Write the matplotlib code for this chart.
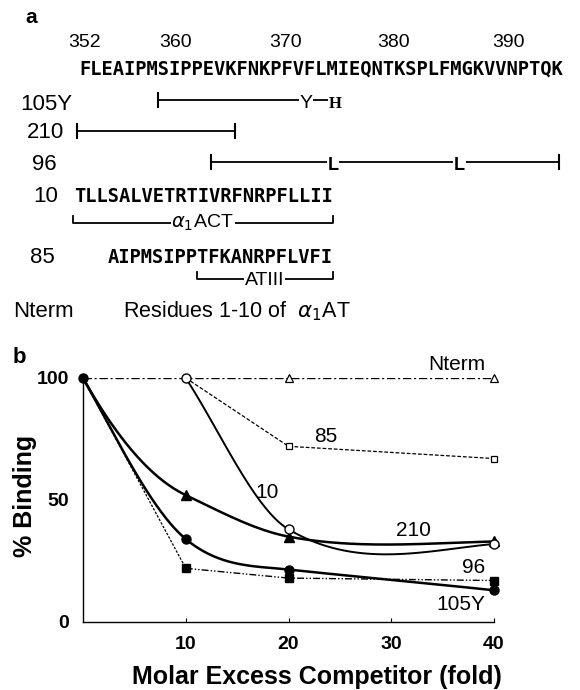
import numpy as np
import matplotlib
matplotlib.use("Agg")
import matplotlib.pyplot as plt

# ---- panel a: peptide map ----
seq_start = 352
sequence = "FLEAIPMSIPPEVKFNKPFVFLMIEQNTKSPLFMGKVVNPTQK"
number_labels = ["352", "360", "370", "380", "390"]
number_pos = [352, 360, 369.8, 379.4, 389.6]

pep105Y_span = (358.5, 374.2)
pep105Y_mut = ("Y", 371.6)
pep210_span = (351.3, 365.3)
pep96_span = (363.2, 394.1)
pep96_mut = [374, 385.2]
pep10_seq = "TLLSALVETRTIVRFNRPFLLII"
pep10_first = 351.5
act_bracket = (350.9, 374.0)
pep85_seq = "AIPMSIPPTFKANRPFLVFI"
pep85_first = 354.5
atiii_bracket = (361.9, 374.0)

# ---- panel b: competition curves ----
excess = [0, 10, 20, 40]
nterm = [100, 100, 100, 100]
p85 = [100, 100, 72, 67]
p10 = [100, 100, 38, 32]
p210 = [100, 52, 35, 33]
p96 = [100, 22, 18, 17]
p105Y = [100, 34, 21.5, 13]
# tangents of the hand drawn curves at each point
p10_tan = [-6.5, -2.5, 0.4]
p210_tan = [-7.5, -2.0, -0.8, 0.1]
p105Y_tan = [-7.5, -3.5, -0.45, -0.45]

sans = "Liberation Sans"
mono = "DejaVu Sans Mono"

W, H = 580, 690
PITCH = 11.27  # px per residue
fig = plt.figure(figsize=(5.8, 6.9), dpi=100)

axa = fig.add_axes([0, 0, 1, 1])
axa.set_xlim(0, W)
axa.set_ylim(H, 0)
axa.axis("off")

def rx(r):
    return 85 + (r - seq_start) * PITCH

def bar(x0, x1, y, ticks=(True, True)):
    axa.plot([x0, x1], [y, y], color="black", lw=1.3)
    for x, t in zip((x0, x1), ticks):
        if t:
            axa.plot([x, x], [y - 7, y + 7], color="black", lw=1.5)

def bracket(x0, x1, y):
    axa.plot([x0, x0, x1, x1], [y - 7, y, y, y - 7], color="black", lw=1.3)

# mono advance is 0.602 em, so this size puts one letter per residue
seq_size = PITCH / 0.602 * 72 / 100

def letters(s, first, y):
    axa.text(rx(first) - PITCH / 2, y, s, family=mono, weight="bold",
             fontsize=seq_size, ha="left", va="baseline")

wh = dict(fc="white", ec="none", pad=0.6)

axa.text(25, 23, "a", family=sans, weight="bold", fontsize=15, va="baseline")
for lab, p in zip(number_labels, number_pos):
    axa.text(rx(p), 47, lab, family=sans, fontsize=14, ha="center", va="baseline")
letters(sequence, seq_start, 75)

# 105Y
axa.text(20, 110, "105Y", family=sans, fontsize=16, va="baseline")
bar(rx(pep105Y_span[0]), rx(pep105Y_span[1]), 100, (True, False))
axa.text(rx(pep105Y_mut[1]), 108, pep105Y_mut[0], family=sans, fontsize=14,
         ha="center", va="baseline", bbox=wh)
axa.text(rx(pep105Y_span[1]), 108, "H", family="Liberation Serif", weight="bold",
         fontsize=12, ha="center", va="baseline", bbox=wh)
# 210
axa.text(27, 138, "210", family=sans, fontsize=16, va="baseline")
bar(rx(pep210_span[0]), rx(pep210_span[1]), 131)
# 96
axa.text(32, 170, "96", family=sans, fontsize=16, va="baseline")
bar(rx(pep96_span[0]), rx(pep96_span[1]), 162)
for m in pep96_mut:
    axa.text(rx(m), 170, "L", family=sans, weight="bold", fontsize=13,
             ha="center", va="baseline", bbox=wh)
# 10
axa.text(33, 202, "10", family=sans, fontsize=16, va="baseline")
letters(pep10_seq, pep10_first, 202)
bracket(rx(act_bracket[0]), rx(act_bracket[1]), 223)
axa.text(rx((act_bracket[0] + act_bracket[1]) / 2), 228, r"$\alpha_1$ACT",
         family=sans, fontsize=14, ha="center", va="baseline", bbox=wh)
# 85
axa.text(30, 263, "85", family=sans, fontsize=16, va="baseline")
letters(pep85_seq, pep85_first, 263)
bracket(rx(atiii_bracket[0]), rx(atiii_bracket[1]), 279)
axa.text(rx((atiii_bracket[0] + atiii_bracket[1]) / 2), 285, "ATIII",
         family=sans, fontsize=14, ha="center", va="baseline", bbox=wh)
# Nterm
axa.text(13, 317, "Nterm", family=sans, fontsize=16, va="baseline")
axa.text(123, 317, r"Residues 1-10 of  $\alpha_1$AT", family=sans, fontsize=15.5,
         va="baseline")
axa.text(13, 363, "b", family=sans, weight="bold", fontsize=16, va="baseline")

# ---- panel b ----
def hermite(xs, ys, ms, n=60):
    px, py = [], []
    t = np.linspace(0, 1, n)
    for i in range(len(xs) - 1):
        h = xs[i + 1] - xs[i]
        h00 = 2 * t**3 - 3 * t**2 + 1
        h10 = t**3 - 2 * t**2 + t
        h01 = -2 * t**3 + 3 * t**2
        h11 = t**3 - t**2
        px.append(xs[i] + t * h)
        py.append(h00 * ys[i] + h10 * h * ms[i] + h01 * ys[i + 1] + h11 * h * ms[i + 1])
    return np.concatenate(px), np.concatenate(py)

axb = fig.add_axes([83 / W, 68 / H, 411 / W, 244 / H])
axb.patch.set_visible(False)
axb.set_xlim(0, 40)
axb.set_ylim(0, 100)

axb.plot(excess, nterm, color="black", lw=1.0, ls=(0, (6, 2, 1.5, 2)))
axb.plot(excess[1:], p85[1:], color="black", lw=0.9, ls=(0, (3, 1.5)))
axb.plot(excess[:2], p96[:2], color="black", lw=0.9, ls=(0, (2, 1.2)))
axb.plot(excess[1:], p96[1:], color="black", lw=1.0, ls=(0, (5, 1.5, 1, 1.5, 1, 1.5)))
x, y = hermite(excess[1:], p10[1:], p10_tan)
axb.plot(x, y, color="black", lw=1.4)
x, y = hermite(excess, p210, p210_tan)
axb.plot(x, y, color="black", lw=1.8)
x, y = hermite(excess, p105Y, p105Y_tan)
axb.plot(x, y, color="black", lw=1.8)

mk = dict(color="black", ls="none", clip_on=False, zorder=5)
axb.plot(excess[2:], nterm[2:], marker="^", ms=6, mfc="white", mew=0.9, **mk)
axb.plot(excess[2:], p85[2:], marker="s", ms=5, mfc="white", mew=0.9, **mk)
axb.plot(excess[1:], p96[1:], marker="s", ms=5.5, **mk)
axb.plot(excess[1:], p210[1:], marker="^", ms=7, **mk)
axb.plot(excess[1:], p105Y[1:], marker="o", ms=6.5, **mk)
axb.plot(excess[1:], p10[1:], marker="o", ms=6.5, mfc="white", mew=1.0, **mk)
axb.plot(excess[:1], p105Y[:1], marker="o", ms=6.5, **mk)

curve_labels = {"Nterm": (36.4, 105.7), "85": (23.6, 76.2), "10": (17.9, 53.0),
                "210": (32.2, 37.3), "96": (38.0, 22.5), "105Y": (36.8, 7.0)}
for lab, (lx, ly) in curve_labels.items():
    axb.text(lx, ly, lab, family=sans, fontsize=15, ha="center", va="center")

for s in ("top", "right"):
    axb.spines[s].set_visible(False)
for s in ("left", "bottom"):
    axb.spines[s].set_linewidth(1.0)
axb.set_xticks([10, 20, 30, 40])
axb.set_yticks([0, 50, 100])
axb.tick_params(axis="x", direction="in", length=3, pad=10, labelsize=14)
axb.tick_params(axis="y", length=0, pad=10, labelsize=14)
for lab in axb.get_xticklabels() + axb.get_yticklabels():
    lab.set_family(sans)
    lab.set_weight("bold")

fig.text(316.5 / W, 1 - 684 / H, "Molar Excess Competitor (fold)", family=sans,
         weight="bold", fontsize=18, ha="center", va="baseline")
fig.text(25 / W, 1 - 496 / H, "% Binding", family=sans, weight="bold", fontsize=18,
         rotation=90, ha="center", va="center")

fig.savefig("out.png", dpi=100)
